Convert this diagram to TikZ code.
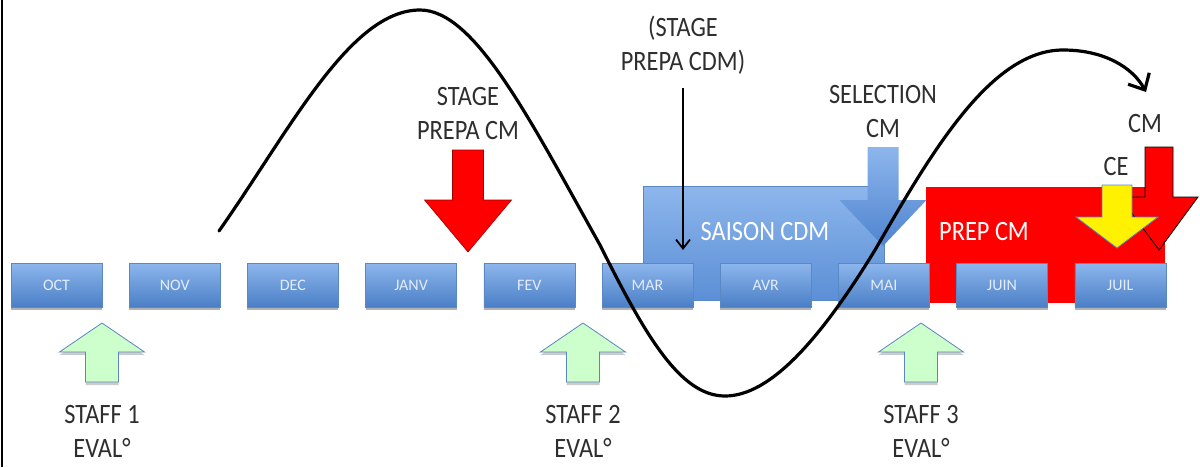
\documentclass[tikz,border=0pt]{standalone}
\usepackage{fontspec}
\setmainfont{Carlito}
\usetikzlibrary{arrows.meta,shadows}
\definecolor{boxtop}{HTML}{8DB6EC}
\definecolor{boxbot}{HTML}{4A7FC6}
\definecolor{boxedge}{HTML}{5A88C4}
\definecolor{boxtext}{HTML}{E4ECF8}
\definecolor{lbltext}{HTML}{2E2E2E}
\definecolor{saitop}{HTML}{8DB6EC}
\definecolor{saibot}{HTML}{5B8FD6}
\definecolor{selcol}{HTML}{4F84CF}
\definecolor{greenfill}{HTML}{CCFFCC}
\definecolor{greenedge}{HTML}{5B86C0}
\definecolor{darkred}{HTML}{A00000}
\newcommand{\blockarrow}[7]{%
  \path[#1] (#2-#4,#3) -- (#2+#4,#3) -- (#2+#4,#5) -- (#2+#6,#5) -- (#2,#7)
    -- (#2-#6,#5) -- (#2-#4,#5) -- cycle;}
\begin{document}
\begin{tikzpicture}[x=1pt,y=-1pt,
  month/.style={draw=boxedge, line width=0.6pt, top color=boxtop, bottom color=boxbot,
    minimum width=91pt, minimum height=44pt, inner sep=0pt,
    font=\fontsize{16}{18}\selectfont, text=boxtext,
    drop shadow={shadow xshift=0pt, shadow yshift=-3pt, opacity=0.3, fill=black}},
  lbl/.style={font=\fontsize{28}{34}\selectfont, text=lbltext, align=center,
    xscale=0.87, inner sep=0pt},
  wlbl/.style={font=\fontsize{28}{34}\selectfont, text=white, xscale=0.87, inner sep=0pt},
  staffarrow/.style={fill=greenfill, draw=greenedge, line width=0.8pt,
    drop shadow={shadow xshift=0pt, shadow yshift=-3pt, opacity=0.2, fill=black}},
  redarrow/.style={fill=red, draw=darkred, line width=0.6pt},
  cmarrow/.style={fill=red, draw=black, line width=0.8pt},
  cearrow/.style={fill=yellow, draw=greenedge, line width=0.8pt},
  selarrow/.style={top color=saitop, bottom color=selcol, draw=none},
  curve/.style={line width=3.2pt, black, line cap=round},
  thinarrow/.style={line width=1.8pt, black, -{Straight Barb[length=9pt,width=14pt]}}]
\useasboundingbox (0,0) rectangle (1200,467);
\fill[white] (0,0) rectangle (1200,467);
\draw[line width=2pt] (1.5,0) -- (1.5,467);

% background season boxes
\path[top color=saitop, bottom color=saibot, draw=boxedge, line width=0.5pt]
  (643,186) rectangle (884,300);
\fill[red] (926,187) rectangle (1165,303);

% month boxes
\foreach \i/\m in {0/OCT,1/NOV,2/DEC,3/JANV,4/FEV,5/MAR,6/AVR,7/MAI,8/JUIN,9/JUIL}{
  \node[month] (m\i) at ({56.5+118.2*\i},285) {\m};
}

% selection arrow
\blockarrow{selarrow}{883}{147}{15.5}{200}{43.5}{246}

% texts
\node[wlbl] (saison) at (765,232) {SAISON CDM};
\node[wlbl] (prepcm) at (984,232) {PREP CM};
\node[lbl] (stagecm) at (468,114) {STAGE\\PREPA CM};
\node[lbl] (stagecdm) at (683,45) {(STAGE\\PREPA CDM)};
\node[lbl] (selection) at (883,112) {SELECTION\\CM};
\node[lbl] (cm) at (1145,124) {CM};
\node[lbl] (ce) at (1116,167) {CE};
\node[lbl] (staff1) at (102,431) {STAFF 1\\EVAL°};
\node[lbl] (staff2) at (583,431) {STAFF 2\\EVAL°};
\node[lbl] (staff3) at (921,431) {STAFF 3\\EVAL°};

% block arrows
\blockarrow{redarrow}{468}{150}{15.5}{200}{43.5}{252}
\blockarrow{cmarrow}{1159}{147}{14}{197}{39}{250}
\blockarrow{cearrow}{1117}{185}{15}{217}{41}{248}
\blockarrow{staffarrow}{102}{382}{16.5}{352}{42.5}{323}
\blockarrow{staffarrow}{583}{382}{16.5}{352}{42.5}{323}
\blockarrow{staffarrow}{921}{382}{16.5}{352}{42.5}{323}

% thin arrow from (STAGE PREPA CDM)
\coordinate (a0) at (683,88);
\coordinate (a1) at (683,250);
\draw[thinarrow] (a0) -- (a1);

% the wave
\coordinate (c0) at (219,231);
\coordinate (c1) at (420,10);
\coordinate (c2) at (600,245);
\coordinate (c3) at (725,396);
\coordinate (c4) at (875,250);
\coordinate (c5) at (1063,50);
\coordinate (c6) at (1146,92);
\draw[curve, -{Straight Barb[length=13pt,width=24pt]}] (c0)
  .. controls (290,130) and (350,10) .. (c1)
  .. controls (475,10) and (530,120) .. (c2)
  .. controls (645,335) and (680,396) .. (c3)
  .. controls (770,396) and (820,340) .. (c4)
  .. controls (930,155) and (990,50) .. (c5)
  .. controls (1105,50) and (1133,68) .. (c6);
\end{tikzpicture}
\end{document}
